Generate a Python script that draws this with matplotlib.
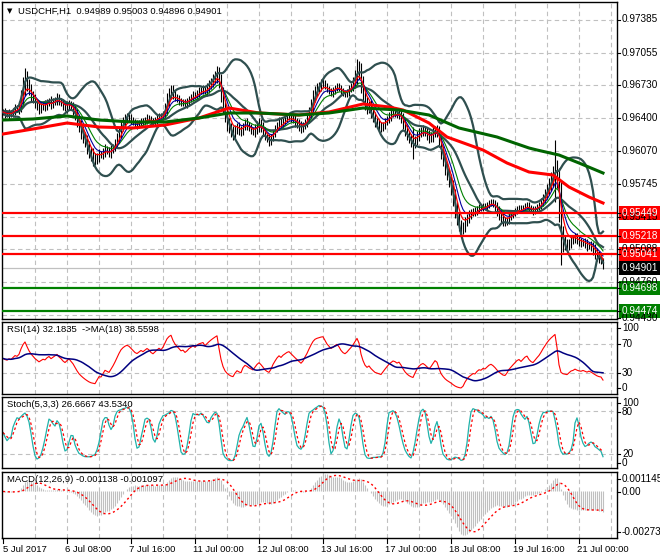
import matplotlib
matplotlib.use("Agg")
import matplotlib.pyplot as plt
import numpy as np

# ---------------- data (prices in pips, 0.0001) ----------------
CLOSE_PIPS = [
    9646, 9644, 9643, 9645, 9644, 9647, 9650, 9649, 9652, 9662,
    9672, 9680, 9674, 9668, 9663, 9659, 9655, 9652, 9649, 9651,
    9653, 9652, 9655, 9657, 9654, 9656, 9658, 9660, 9657, 9655,
    9652, 9650, 9652, 9654, 9651, 9648, 9643, 9637, 9631, 9626,
    9621, 9616, 9611, 9606, 9602, 9600, 9598, 9601, 9604, 9603,
    9606, 9609, 9607, 9605, 9608, 9611, 9615, 9620, 9626, 9632,
    9636, 9639, 9641, 9640, 9638, 9636, 9634, 9633, 9635, 9637,
    9636, 9638, 9640, 9639, 9637, 9636, 9638, 9640, 9642, 9641,
    9644, 9650, 9658, 9664, 9668, 9664, 9661, 9659, 9657, 9655,
    9656, 9654, 9656, 9659, 9661, 9663, 9662, 9665, 9667, 9668,
    9669, 9667, 9670, 9673, 9676, 9679, 9682, 9685, 9676, 9664,
    9652, 9642, 9635, 9630, 9626, 9624, 9628, 9631, 9628, 9626,
    9632, 9635, 9633, 9630, 9628, 9626, 9629, 9632, 9634, 9631,
    9627, 9622, 9619, 9617, 9620, 9625, 9629, 9633, 9636, 9634,
    9637, 9639, 9641, 9642, 9640, 9638, 9636, 9634, 9632, 9630,
    9632, 9636, 9640, 9646, 9653, 9661, 9667, 9670, 9672, 9674,
    9675, 9672, 9669, 9667, 9665, 9667, 9670, 9672, 9670, 9667,
    9665, 9664, 9666, 9669, 9672, 9676, 9682, 9690, 9686, 9674,
    9664, 9655, 9650, 9652, 9646, 9641, 9636, 9634, 9632, 9630,
    9633, 9636, 9639, 9642, 9644, 9646, 9645, 9643, 9644, 9640,
    9634, 9628, 9623, 9619, 9616, 9614, 9618, 9622, 9625, 9627,
    9628, 9626, 9623, 9620, 9622, 9625, 9628, 9626, 9617, 9606,
    9598, 9590, 9583, 9577, 9570, 9560, 9549, 9540, 9533, 9529,
    9531, 9536, 9540, 9543, 9545, 9547, 9546, 9549, 9551, 9550,
    9552, 9551, 9553, 9555, 9556, 9554, 9551, 9547, 9543, 9540,
    9537, 9536, 9538, 9541, 9543, 9545, 9547, 9549, 9550, 9548,
    9550, 9552, 9553, 9550, 9548, 9547, 9549, 9551, 9553, 9556,
    9560, 9564, 9569, 9574, 9579, 9584, 9590, 9578, 9548, 9522,
    9516, 9514, 9512, 9515, 9518, 9519, 9521, 9518, 9516, 9515,
    9516, 9514, 9512, 9513, 9511, 9508, 9505, 9502, 9500, 9499, 9490,
]
WICK_PIPS = [
    3, 4, 2, 4, 3, 3, 4, 3, 5, 6,
    9, 10, 7, 5, 6, 4, 5, 4, 5, 4,
    3, 5, 4, 3, 5, 4, 3, 5, 4, 3,
    4, 3, 5, 4, 3, 5, 5, 6, 5, 7,
    6, 5, 7, 6, 5, 8, 5, 4, 5, 3,
    4, 5, 3, 4, 5, 3, 4, 5, 5, 6,
    5, 5, 4, 3, 4, 3, 3, 4, 3, 3,
    3, 3, 4, 3, 3, 3, 3, 4, 3, 3,
    3, 5, 7, 6, 5, 5, 4, 3, 4, 3,
    3, 3, 4, 3, 3, 4, 3, 3, 4, 3,
    4, 3, 5, 5, 4, 5, 5, 7, 6, 8,
    7, 6, 8, 5, 5, 6, 5, 4, 5, 4,
    3, 4, 5, 3, 4, 3, 5, 5, 6, 5,
    5, 4, 3, 5, 4, 3, 4, 3, 5, 4,
    3, 4, 3, 3, 4, 3, 5, 4, 5, 5,
    4, 3, 5, 5, 6, 7, 5, 5, 4, 5,
    4, 3, 3, 3, 3, 4, 3, 3, 3, 3,
    3, 3, 3, 4, 3, 5, 6, 9, 7, 9,
    8, 7, 6, 5, 6, 5, 5, 4, 5, 4,
    3, 4, 3, 4, 5, 3, 4, 3, 4, 5,
    5, 6, 5, 4, 5, 15, 4, 5, 5, 4,
    5, 4, 5, 5, 4, 6, 4, 5, 6, 7,
    6, 7, 5, 6, 7, 8, 9, 7, 6, 5,
    5, 5, 4, 5, 4, 3, 4, 3, 3, 3,
    3, 3, 3, 3, 3, 3, 4, 5, 5, 5,
    5, 4, 3, 4, 3, 3, 3, 3, 3, 3,
    3, 3, 3, 3, 3, 4, 3, 3, 3, 4,
    4, 5, 5, 6, 7, 8, 28, 8, 12, 29,
    10, 6, 5, 4, 5, 4, 4, 4, 4, 4,
    3, 4, 5, 3, 4, 5, 6, 5, 5, 5, 1,
]

# long moving averages: (bar, pips)
MA_RED_BARS = [0, 15, 32, 48, 65, 81, 98, 113, 128, 148, 163, 180, 193,
               200, 213, 222, 240, 252, 263, 275, 283, 293, 300]
MA_RED_PIPS = [9624, 9629, 9635, 9631, 9630, 9633, 9640, 9650, 9645, 9643,
               9646, 9654, 9651, 9648, 9635, 9621, 9608, 9595, 9586, 9583,
               9571, 9561, 9555]
MA_GRN_BARS = [0, 15, 32, 48, 65, 81, 98, 113, 128, 148, 163, 180, 198,
               213, 228, 247, 263, 267, 278, 288, 300]
MA_GRN_PIPS = [9638, 9639, 9642, 9638, 9636, 9636, 9640, 9645, 9645, 9643,
               9645, 9650, 9648, 9643, 9630, 9621, 9610, 9608, 9603, 9595,
               9585]

PRICE_GRID = [0.97385, 0.97055, 0.96730, 0.96400, 0.96070, 0.95745,
              0.95415, 0.95088, 0.94760, 0.94430]
RED_LEVELS = [0.95449, 0.95218, 0.95041]
GREEN_LEVELS = [0.94698, 0.94474]
LAST_PRICE = 0.94901

TIME_TICKS = [0, 32, 64, 96, 128, 160, 192, 224, 256, 288]
TIME_LABELS = ["5 Jul 2017", "6 Jul 08:00", "7 Jul 16:00", "11 Jul 00:00",
               "12 Jul 08:00", "13 Jul 16:00", "17 Jul 00:00", "18 Jul 08:00",
               "19 Jul 16:00", "21 Jul 00:00"]


# ---------------- indicator helpers ----------------
def ema(x, n):
    a = 2.0 / (n + 1)
    out = np.empty_like(x)
    out[0] = x[0]
    for i in range(1, len(x)):
        out[i] = a * x[i] + (1 - a) * out[i - 1]
    return out


def sma(x, n):
    out = np.empty_like(x)
    for i in range(len(x)):
        out[i] = x[max(0, i - n + 1):i + 1].mean()
    return out


def rstd(x, n):
    out = np.empty_like(x)
    for i in range(len(x)):
        out[i] = x[max(0, i - n + 1):i + 1].std()
    return out


def rsi(c, n):
    # Wilder smoothing, started from an even up/down average
    d = np.diff(c, prepend=c[0])
    up = np.clip(d, 0, None)
    dn = np.clip(-d, 0, None)
    au = np.empty_like(c)
    ad = np.empty_like(c)
    au[0] = ad[0] = 0.00025
    for i in range(1, len(c)):
        au[i] = (au[i - 1] * (n - 1) + up[i]) / n
        ad[i] = (ad[i - 1] * (n - 1) + dn[i]) / n
    return 100 - 100 / (1 + au / np.maximum(ad, 1e-9))


close = np.array(CLOSE_PIPS, float) / 10000
wick = np.array(WICK_PIPS, float) / 10000
opn = np.concatenate([[close[0]], close[:-1]])
high = np.maximum(opn, close) + wick
low = np.minimum(opn, close) - wick
bars = np.arange(len(close))

bb_mid = sma(close, 20)
bb_sd = rstd(close, 20)
bb_up = bb_mid + 2 * bb_sd
bb_lo = bb_mid - 2 * bb_sd

ma_fast = ema(close, 5)
ma_mid = ema(close, 8)
ma_slow = ema(close, 13)

rsi14 = rsi(close, 14)
rsi_ma = sma(rsi14, 18)

hh = np.array([high[max(0, i - 4):i + 1].max() for i in bars])
ll = np.array([low[max(0, i - 4):i + 1].min() for i in bars])
num = np.array([(close - ll)[max(0, i - 2):i + 1].sum() for i in bars])
den = np.array([(hh - ll)[max(0, i - 2):i + 1].sum() for i in bars])
stoch_k = 100 * num / np.maximum(den, 1e-9)
stoch_d = sma(stoch_k, 3)

macd = ema(close, 12) - ema(close, 26)
macd_sig = sma(macd, 9)

# ---------------- figure ----------------
W, H = 660, 560
plt.rcParams["font.family"] = ["Liberation Sans", "DejaVu Sans"]
FS = 7.2        # right-hand scale labels
FS_SMALL = 6.8  # window captions and time labels
fig = plt.figure(figsize=(W / 100, H / 100), dpi=100)
fig.patch.set_facecolor("white")

GRID = dict(color="#c0c0c0", lw=0.8, ls=(0, (4, 3)), zorder=0)
XMAX = 307


def px_axes(left, top, right, bottom):
    ax = fig.add_axes([left / W, 1 - bottom / H, (right - left) / W,
                       (bottom - top) / H])
    ax.set_xlim(-0.5, XMAX)
    ax.set_xticks([])
    ax.set_yticks([])
    for s in ax.spines.values():
        s.set_color("black")
        s.set_linewidth(1.0)
    for k in range(1, 20):
        ax.axvline(16 * k, **GRID)
    return ax


def rlabel(y, txt, fc=None, tc="black"):
    if fc is not None:
        fig.patches.append(plt.Rectangle((619 / W, 1 - (y + 7) / H), 42 / W,
                                         14 / H, transform=fig.transFigure,
                                         facecolor=fc, edgecolor="none"))
    fig.text(622 / W, 1 - y / H, txt, fontsize=FS, color=tc,
             ha="left", va="center")
    fig.add_artist(plt.Line2D([617 / W, 620 / W], [1 - y / H, 1 - y / H],
                              color="black", lw=0.8))


def caption(ax, txt):
    ax.text(2, 0.96, txt, fontsize=FS_SMALL, ha="left", va="top",
            transform=ax.get_xaxis_transform(), zorder=8)


# ---- main price window
ax = px_axes(2, 2, 617, 319)
ax.set_ylim(0.94390, 0.97560)
for p in PRICE_GRID:
    ax.axhline(p, **GRID)
ax.vlines(bars, low, high, color="black", lw=0.8, zorder=2)
ax.plot(bars, bb_up, color="#2f4f4f", lw=1.6, zorder=3)
ax.plot(bars, bb_mid, color="#2f4f4f", lw=1.6, zorder=3)
ax.plot(bars, bb_lo, color="#2f4f4f", lw=1.6, zorder=3)
ax.plot(bars, ma_slow, color="#008000", lw=0.8, zorder=4)
ax.plot(bars, ma_mid, color="#0000a0", lw=0.8, zorder=4)
ax.plot(bars, ma_fast, color="#ff0000", lw=0.9, zorder=4)
ax.plot(MA_RED_BARS, np.array(MA_RED_PIPS) / 10000, color="#ff0000",
        lw=2.2, zorder=5)
ax.plot(MA_GRN_BARS, np.array(MA_GRN_PIPS) / 10000, color="#006400",
        lw=2.2, zorder=5)
ax.axhline(LAST_PRICE, color="#c0c0c0", lw=0.9, zorder=1)
for p in RED_LEVELS:
    ax.axhline(p, color="#ff0000", lw=1.6, zorder=6)
for p in GREEN_LEVELS:
    ax.axhline(p, color="#008000", lw=1.6, zorder=6)

fig.text(7 / W, 1 - 11 / H, "\u25bc", fontsize=5, color="black",
         ha="left", va="center", family="DejaVu Sans")
fig.text(18 / W, 1 - 11 / H, "USDCHF,H1  0.94989 0.95003 0.94896 0.94901",
         fontsize=FS_SMALL, ha="left", va="center")


def price_y(p):
    return 9758 - p * 10000


for p in PRICE_GRID[:-1]:
    rlabel(price_y(p), f"{p:.5f}")
rlabel(price_y(0.94430) + 3, "0.94430")
rlabel(price_y(LAST_PRICE), f"{LAST_PRICE:.5f}", fc="black", tc="white")
for p in RED_LEVELS:
    rlabel(price_y(p), f"{p:.5f}", fc="#ff0000", tc="white")
for p in GREEN_LEVELS:
    rlabel(price_y(p), f"{p:.5f}", fc="#008000", tc="white")

# ---- RSI window
ax = px_axes(2, 322, 617, 394)
ax.set_ylim(1, 100.3)
for v in (70, 30):
    ax.axhline(v, **GRID)
ax.plot(bars, rsi14, color="#ff0000", lw=0.8)
ax.plot(bars, rsi_ma, color="#000080", lw=1.1)
caption(ax, "RSI(14) 32.1835  ->MA(18) 38.5598")
for y, t in [(328, "100"), (344, "70"), (373, "30"), (388, "0")]:
    rlabel(y, t)

# ---- Stochastic window
ax = px_axes(2, 397, 617, 468)
ax.set_ylim(0, 100)
for v in (80, 20):
    ax.axhline(v, **GRID)
ax.plot(bars, stoch_k, color="#20b2aa", lw=0.9)
ax.plot(bars, stoch_d, color="#ff0000", lw=0.9, ls=(0, (2, 2)))
caption(ax, "Stoch(5,3,3) 26.6667 43.5340")
for y, t in [(403, "100"), (412, "80"), (454, "20"), (463, "0")]:
    rlabel(y, t)

# ---- MACD window
ax = px_axes(2, 472, 617, 538)
ax.set_ylim(-0.002731, 0.001145)
ax.vlines(bars, 0, macd, color="#c0c0c0", lw=0.8)
ax.plot(bars, macd_sig, color="#ff0000", lw=1.0, ls=(0, (1.5, 2)))
caption(ax, "MACD(12,26,9) -0.001138 -0.001097")
for y, t in [(479, "0.001145"), (492, "0.00"), (532, "-0.002731")]:
    rlabel(y, t)

# ---- time axis
for b, lab in zip(TIME_TICKS, TIME_LABELS):
    xp = 3 + 2 * b
    fig.add_artist(plt.Line2D([xp / W, xp / W], [1 - 538 / H, 1 - 543 / H],
                              color="black", lw=0.8))
    fig.text((xp - 2 if b else 3) / W, 1 - 549 / H, lab, fontsize=FS_SMALL,
             ha="left", va="center")

fig.savefig("out.png", dpi=100)
